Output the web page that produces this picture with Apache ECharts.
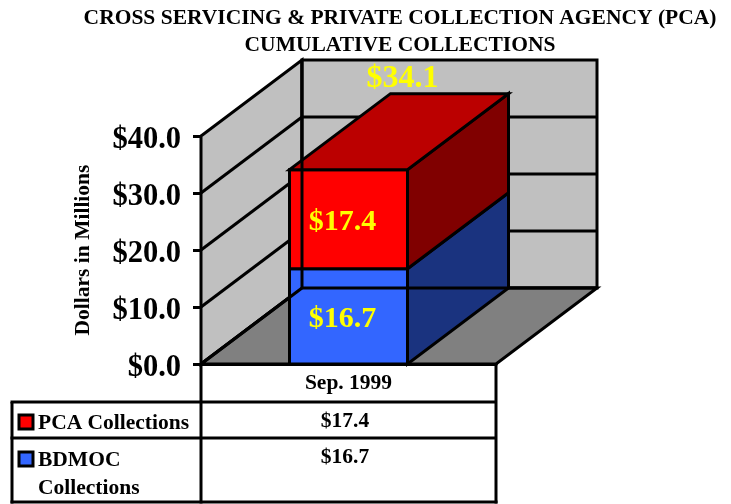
<!DOCTYPE html>
<html>
<head>
<meta charset="utf-8">
<title>Cumulative Collections</title>
<style>
  html, body { margin: 0; padding: 0; background: #fff; }
  #chart { width: 731px; height: 504px; }
</style>
<script src="https://cdn.jsdelivr.net/npm/echarts@6/dist/echarts.min.js"></script>
</head>
<body>
<div id="chart"></div>
<script>
var categories = ['Sep. 1999']
var bdmocValues = [16.7]
var pcaValues = [17.4]
var totalLabels = ['$34.1']
var yTicks = [0, 10, 20, 30, 40]

var FONT = '"Liberation Serif", "Times New Roman", serif'
var DEPTH_X = 101
var DEPTH_Y = -76
var BAR_RATIO = 0.4
var LINE = 3
var money = function (v) { return '$' + v.toFixed(1) }

function back(p) {
  return [p[0] + DEPTH_X, p[1] + DEPTH_Y]
}
function poly(points, fill) {
  return {
    type: 'polygon',
    shape: { points: points },
    style: { fill: fill, stroke: '#000', lineWidth: LINE, lineJoin: 'miter' }
  }
}
function seg(a, b) {
  return {
    type: 'line',
    shape: { x1: a[0], y1: a[1], x2: b[0], y2: b[1] },
    style: { stroke: '#000', lineWidth: LINE }
  }
}

// side walls, floor and the grid lines on them
function renderWalls(params, api) {
  var size = api.size([1, 0])[0]
  var cx = api.coord([0, 0])[0]
  var l = cx - size / 2
  var r = cx + size / 2
  var y0 = api.coord([0, 0])[1]
  var yTop = api.coord([0, yTicks[yTicks.length - 1]])[1]
  var children = [
    poly([[l, y0], [l, yTop], back([l, yTop]), back([l, y0])], '#c0c0c0'),
    poly([back([l, y0]), back([l, yTop]), back([r, yTop]), back([r, y0])], '#c0c0c0'),
    poly([[l, y0], [r, y0], back([r, y0]), back([l, y0])], '#808080')
  ]
  yTicks.slice(1, -1).forEach(function (t) {
    var y = api.coord([0, t])[1]
    children.push(seg([l, y], back([l, y])))
    children.push(seg(back([l, y]), back([r, y])))
  })
  return { type: 'group', children: children }
}

// one stacked 3D block, base comes from the series below it
function blockRenderer(base, front, top, side, showTop) {
  return function (params, api) {
    var i = params.dataIndex
    var v = api.value(1)
    var b = base[i]
    var cx = api.coord([api.value(0), 0])[0]
    var w = api.size([1, 0])[0] * BAR_RATIO
    var yLow = api.coord([0, b])[1]
    var yHigh = api.coord([0, b + v])[1]
    var a = [cx - w / 2, yHigh]
    var c = [cx + w / 2, yHigh]
    var d = [cx + w / 2, yLow]
    var e = [cx - w / 2, yLow]
    var children = [
      poly([a, c, d, e], front),
      poly([c, back(c), back(d), d], side)
    ]
    if (showTop) {
      children.push(poly([a, back(a), back(c), c], top))
    }
    return { type: 'group', children: children }
  }
}

// Excel draws the back frame over the bar
function renderFrame(params, api) {
  var size = api.size([1, 0])[0]
  var cx = api.coord([0, 0])[0]
  var l = cx - size / 2
  var r = cx + size / 2
  var y0 = api.coord([0, 0])[1]
  var yTop = api.coord([0, yTicks[yTicks.length - 1]])[1]
  return {
    type: 'group',
    children: [
      seg(back([l, yTop]), back([l, y0])),
      seg(back([l, y0]), back([r, y0])),
      seg([l, y0], back([l, y0]))
    ]
  }
}

// data labels, drawn last
function renderLabels(params, api) {
  var i = params.dataIndex
  var cx = api.coord([i, 0])[0]
  var items = [
    { text: money(bdmocValues[i]), x: cx - 6, y: api.coord([0, bdmocValues[i] / 2])[1] + 3, size: 30 },
    { text: money(pcaValues[i]), x: cx - 6, y: api.coord([0, bdmocValues[i] + pcaValues[i] / 2])[1] + 3, size: 30 },
    { text: totalLabels[i], x: cx + 54, y: api.coord([0, 40])[1] - 57, size: 32 }
  ]
  return {
    type: 'group',
    children: items.map(function (t) {
      return {
        type: 'text',
        style: {
          x: t.x, y: t.y, text: t.text, fill: '#ffff00',
          font: 'bold ' + t.size + 'px ' + FONT,
          textAlign: 'center', textVerticalAlign: 'middle'
        }
      }
    })
  }
}

// data table under the plot
function tableLine(x1, y1, x2, y2) {
  return {
    type: 'line',
    shape: { x1: x1, y1: y1, x2: x2, y2: y2 },
    style: { stroke: '#000', lineWidth: LINE },
    z: 10
  }
}
function tableText(x, y, text, align) {
  return {
    type: 'text',
    style: {
      x: x, y: y, text: text, fill: '#000',
      font: 'bold 21.5px ' + FONT,
      textAlign: align, textVerticalAlign: 'middle'
    },
    z: 10
  }
}
function swatch(y, color) {
  return {
    type: 'rect',
    shape: { x: 19, y: y, width: 14, height: 14 },
    style: { fill: color, stroke: '#000', lineWidth: LINE },
    z: 10
  }
}

var tableElements = [
  tableLine(201, 364, 201, 503.5),
  tableLine(496, 364, 496, 503.5),
  tableLine(10.5, 402, 496, 402),
  tableLine(10.5, 438, 496, 438),
  tableLine(10.5, 502, 497.5, 502),
  tableLine(12, 402, 12, 503.5),
  swatch(415, '#ff0000'),
  tableText(38, 423, 'PCA Collections', 'left'),
  tableText(345, 421, money(pcaValues[0]), 'center'),
  swatch(452, '#3366ff'),
  tableText(38, 460, 'BDMOC', 'left'),
  tableText(38, 488, 'Collections', 'left'),
  tableText(345, 457, money(bdmocValues[0]), 'center')
]

var chart = echarts.init(document.getElementById('chart'))
chart.setOption({
  animation: false,
  backgroundColor: '#fff',
  title: {
    text: 'CROSS SERVICING & PRIVATE COLLECTION AGENCY (PCA)\nCUMULATIVE COLLECTIONS',
    left: 395,
    top: 0,
    textAlign: 'center',
    textStyle: {
      fontFamily: FONT,
      fontWeight: 'bold',
      fontSize: 21.5,
      lineHeight: 27,
      color: '#000'
    }
  },
  grid: { left: 201, top: 136, width: 295, height: 228 },
  xAxis: {
    type: 'category',
    data: categories,
    axisLine: { show: true, lineStyle: { color: '#000', width: LINE } },
    axisTick: { show: false },
    axisLabel: {
      margin: 8,
      color: '#000',
      fontFamily: FONT,
      fontWeight: 'bold',
      fontSize: 21.5
    }
  },
  yAxis: {
    type: 'value',
    min: 0,
    max: 40,
    interval: 10,
    name: 'Dollars in Millions',
    nameLocation: 'middle',
    nameRotate: 90,
    nameGap: 107,
    nameTextStyle: {
      color: '#000',
      fontFamily: FONT,
      fontWeight: 'bold',
      fontSize: 21.5
    },
    splitLine: { show: false },
    axisLine: { show: true, lineStyle: { color: '#000', width: LINE } },
    axisTick: { show: true, length: 8, lineStyle: { color: '#000', width: LINE } },
    axisLabel: {
      margin: 20,
      verticalAlign: 'top',
      lineHeight: 8,
      color: '#000',
      fontFamily: FONT,
      fontWeight: 'bold',
      fontSize: 30.5,
      formatter: function (v) { return money(v) }
    }
  },
  series: [
    { type: 'custom', name: 'walls', clip: false, z: 1, silent: true, data: [[0, 0]], renderItem: renderWalls },
    {
      type: 'custom',
      name: 'BDMOC Collections',
      clip: false,
      z: 2,
      data: bdmocValues.map(function (v, i) { return [i, v] }),
      renderItem: blockRenderer(bdmocValues.map(function () { return 0 }), '#3366ff', '#264db3', '#1a337f', false)
    },
    {
      type: 'custom',
      name: 'PCA Collections',
      clip: false,
      z: 3,
      data: pcaValues.map(function (v, i) { return [i, v] }),
      renderItem: blockRenderer(bdmocValues, '#ff0000', '#bb0000', '#800000', true)
    },
    { type: 'custom', name: 'frame', clip: false, z: 4, silent: true, data: [[0, 0]], renderItem: renderFrame },
    {
      type: 'custom',
      name: 'labels',
      clip: false,
      z: 5,
      silent: true,
      data: categories.map(function (c, i) { return [i, 0] }),
      renderItem: renderLabels
    }
  ],
  graphic: { elements: tableElements }
})
</script>
</body>
</html>
